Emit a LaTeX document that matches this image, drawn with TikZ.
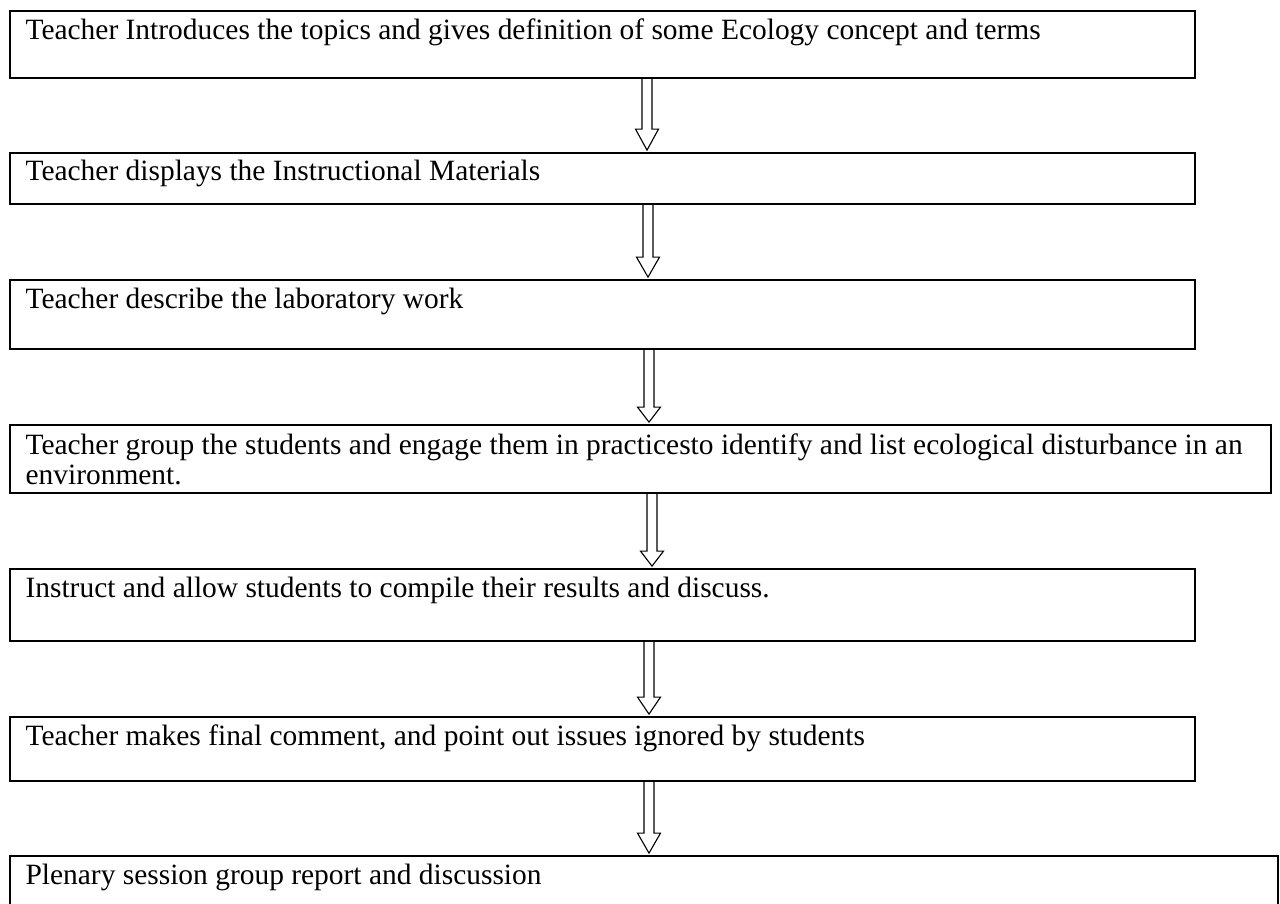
\documentclass[tikz,border=0pt]{standalone}
\usepackage{fontspec}
\setmainfont{Liberation Serif}
\usetikzlibrary{calc,fit}

\tikzset{
  stepbox/.style={draw, line width=0.8pt, inner sep=0pt},
  steptext/.style={anchor=base west, inner sep=0pt, align=left,
    font=\fontsize{13.25}{13.5}\selectfont},
  arrowline/.style={draw, line width=0.5pt, line join=miter},
}

% hollow block arrow: from, to, x, head length
\newcommand{\steparrow}[4]{%
  \path (#3,0 |- #1.south) coordinate (atop) (#3,0 |- #2.north) coordinate (abot);
  \draw[arrowline] ($(atop)+(-5,0)$) -- ($(abot)+(-5,-#4-2)$) -- ($(abot)+(-11.5,-#4-2)$)
    -- ($(abot)+(0,-2)$) -- ($(abot)+(11.5,-#4-2)$) -- ($(abot)+(5,-#4-2)$) -- ($(atop)+(5,0)$);
}

\begin{document}
\begin{tikzpicture}[x=0.45pt, y=-0.45pt]
  \useasboundingbox (0,0) rectangle (1280,903);
  % boxes
  \node[stepbox, fit={(10,11) (1195,78)}] (s1) {};
  \node[steptext] (t1) at ($(s1.north west)+(16,29)$) {Teacher Introduces the topics and gives definition of some Ecology concept and terms};
  \node[stepbox, fit={(10,153) (1195,204)}] (s2) {};
  \node[steptext] (t2) at ($(s2.north west)+(16,28)$) {Teacher displays the Instructional Materials};
  \node[stepbox, fit={(10,280) (1195,349)}] (s3) {};
  \node[steptext] (t3) at ($(s3.north west)+(16,29)$) {Teacher describe the laboratory work};
  \node[stepbox, fit={(10,425) (1271,493)}] (s4) {};
  \node[steptext] (t4) at ($(s4.north west)+(16,60)$) {Teacher group the students and engage them in practicesto identify and list ecological disturbance in an\\environment.};
  \node[stepbox, fit={(10,569) (1195,641)}] (s5) {};
  \node[steptext] (t5) at ($(s5.north west)+(16,29)$) {Instruct and allow students to compile their results and discuss.};
  \node[stepbox, fit={(10,717) (1195,781)}] (s6) {};
  \node[steptext] (t6) at ($(s6.north west)+(16,29)$) {Teacher makes final comment, and point out issues ignored by students};
  \node[stepbox, fit={(10,856) (1278,940)}] (s7) {};
  \node[steptext] (t7) at ($(s7.north west)+(16,29)$) {Plenary session group report and discussion};
  % arrows
  \steparrow{s1}{s2}{647}{21}
  \steparrow{s2}{s3}{648}{20}
  \steparrow{s3}{s4}{649}{15}
  \steparrow{s4}{s5}{652}{15}
  \steparrow{s5}{s6}{649}{17}
  \steparrow{s6}{s7}{649}{20}
\end{tikzpicture}
\end{document}
